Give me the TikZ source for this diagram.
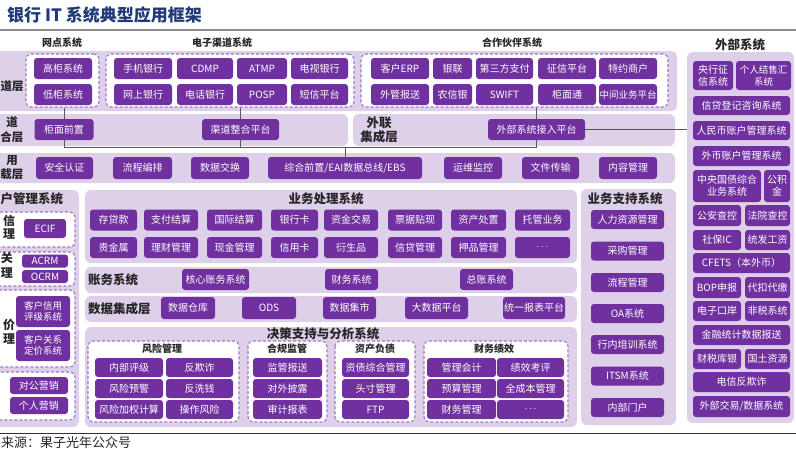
\documentclass[tikz,border=0pt]{standalone}
\usepackage{fontspec}
\setmainfont{Noto Sans CJK SC}
\usetikzlibrary{positioning}
\definecolor{bkpurple}{HTML}{7030A0}
\definecolor{bkband}{HTML}{DFD0EA}
\definecolor{bkdash}{HTML}{9E78C6}
\definecolor{bknavy}{HTML}{1F3A78}
\definecolor{bkline}{HTML}{595959}
\definecolor{bktext}{HTML}{262626}
\tikzset{
  band/.style={fill=bkband,rounded corners=6pt},
  grp/.style={draw=bkdash,dash pattern=on 3pt off 2pt,line width=1.1pt,fill=white,
              rounded corners=5pt},
  sys/.style={fill=bkpurple,text=white,rounded corners=3pt,inner sep=0pt,align=center,
              font=\fontsize{10}{12}\selectfont,minimum height=21pt},
  hdr/.style={font=\fontsize{10}{12}\selectfont\bfseries,text=bktext,inner sep=0pt},
  ttl/.style={font=\fontsize{12.5}{14.5}\selectfont\bfseries,text=bktext,inner sep=0pt,
              align=center},
  side/.style={font=\fontsize{11.5}{14.5}\selectfont\bfseries,text=bktext,inner sep=0pt,
               align=center},
  link/.style={draw=bkline,line width=0.9pt},
}

\begin{document}
\begin{tikzpicture}[x=1pt,y=-1pt]
  \useasboundingbox (0,0) rectangle (796,448);

  % ===== title =====
  \node[font=\fontsize{17}{19}\selectfont\bfseries,text=bknavy,anchor=west,inner sep=0pt]
    (title) at (7,15) {银行 IT 系统典型应用框架};
  \draw[draw=black!45,line width=1.4pt] (0,30) -- (796,30);

  % ===== channel layer =====
  \node[hdr] (lbwd) at (62,43) {网点系统};
  \node[hdr] (lbdz) at (222,43) {电子渠道系统};
  \node[hdr] (lbhz) at (512,43) {合作伙伴系统};
  \fill[band] (-10,51) rectangle (677,111);
  \node[side,anchor=west] (lyqd) at (0.5,86) {道层};
  \node[grp,minimum width=73pt,minimum height=53pt,inner sep=0pt] (wdgrp) at (62.5,80.5) {};
  \node[grp,minimum width=248pt,minimum height=53pt,inner sep=0pt] (dzgrp) at (230,80.5) {};
  \node[grp,minimum width=307pt,minimum height=53pt,inner sep=0pt] (hzgrp) at (514.5,80.5) {};
  \foreach \y/\t [count=\i] in {68.5/高柜系统, 94.5/低柜系统}
    \node[sys,minimum width=58pt] (wd\i) at (63,\y) {\t};
  \foreach \x/\w/\a/\b [count=\i] in {143/58/手机银行/网上银行, 205/56/CDMP/电话银行,
      262/50/ATMP/POSP, 319.5/57/电视银行/短信平台}{
    \node[sys,minimum width=\w pt] (dza\i) at (\x,68.5) {\a};
    \node[sys,minimum width=\w pt] (dzb\i) at (\x,94.5) {\b};
  }
  \foreach \x/\w/\a/\b [count=\i] in {400/58/客户ERP/外管报送, 452.5/39/银联/农信银,
      504.5/57/第三方支付/SWIFT, 567/58/征信平台/柜面通}{
    \node[sys,minimum width=\w pt] (hza\i) at (\x,68.5) {\a};
    \node[sys,minimum width=\w pt] (hzb\i) at (\x,94.5) {\b};
  }
  \node[sys,minimum width=58pt] (hza5) at (628,68.5) {特约商户};
  \node[sys,minimum width=58pt,font=\fontsize{9.5}{11}\selectfont] (hzb5) at (628,94.5) {中间业务平台};

  % ===== integration layers =====
  \fill[band] (-10,114) rectangle (348,146);
  \fill[band] (353,114) rectangle (675,146);
  \node[side] (lyzh) at (12,129.5) {道\\合层};
  \node[ttl] (lywl) at (379,130) {外联\\集成层};
  \node[sys,minimum width=59pt] (gmqz) at (64,129.5) {柜面前置};
  \node[sys,minimum width=77pt] (qdzh) at (240.5,129.5) {渠道整合平台};
  \node[sys,minimum width=97pt] (wbjr) at (536.5,129.5) {外部系统接入平台};

  % ===== application support layer =====
  \fill[band] (-10,153) rectangle (675,183);
  \node[side] (lyyy) at (12,167.5) {用\\载层};
  \foreach \x/\w/\t [count=\i] in {64.5/57/安全认证, 142.5/59/流程编排, 220/58/数据交换,
      473/58/运维监控, 550.5/57/文件传输, 628/58/内容管理}
    \node[sys,minimum width=\w pt,minimum height=22pt] (yy\i) at (\x,168) {\t};
  \node[sys,minimum width=154pt,minimum height=22pt] (eai) at (345,168) {综合前置/EAI数据总线/EBS};

  % ===== external systems =====
  \node[ttl] (lbwb) at (740,45) {外部系统};
  \node[band,minimum width=107pt,minimum height=371pt,inner sep=0pt] (wbpanel) at (740.5,237.5) {};
  \node[sys,minimum width=40pt,minimum height=29pt] (wbyh) at (713,75.5) {央行征\\信系统};
  \node[sys,minimum width=55pt,minimum height=29pt,font=\fontsize{9.5}{12}\selectfont]
    (wbjs) at (763.5,75.5) {个人结售汇\\系统};
  \foreach \y/\h/\t [count=\i] in {105.5/19/信贷登记咨询系统, 130.5/19/人民币账户管理系统,
      156/20/外币账户管理系统, 263/20/CFETS（本外币）, 335/20/金融统计数据报送,
      382/20/电信反欺诈}
    \node[sys,minimum width=97pt,minimum height=\h pt] (wbf\i) at (741.5,\y) {\t};
  \node[sys,minimum width=97pt] (wbjy) at (741.5,406.5) {外部交易/数据系统};
  \node[sys,minimum width=68pt,minimum height=32pt] (wbgz) at (727,186) {中央国债综合\\业务系统};
  \node[sys,minimum width=26pt,minimum height=32pt] (wbgj) at (777,186) {公积\\金};
  \foreach \y/\h/\a/\b [count=\i] in {215.5/21/公安查控/法院查控, 240/20/社保IC/统发工资,
      287.5/21/BOP申报/代扣代缴, 311/20/电子口岸/非税系统, 359/20/财税库银/国土资源}{
    \node[sys,minimum width=48pt,minimum height=\h pt] (wbl\i) at (717,\y) {\a};
    \node[sys,minimum width=45pt,minimum height=\h pt] (wbr\i) at (767.5,\y) {\b};
  }

  % connectors
  \coordinate (bus) at (0,147.5);
  \draw[link] (gmqz.north |- wdgrp.south) -- (gmqz.north);
  \draw[link] (qdzh.north |- dzgrp.south) -- (qdzh.north);
  \draw[link] (wbjr.north |- hzgrp.south) -- (wbjr.north);
  \draw[link] (gmqz.south) -- (gmqz.south |- bus) -- (wbjr.south |- bus) -- (wbjr.south);
  \draw[link] (qdzh.south) -- (qdzh.south |- bus);
  \draw[link] (eai.north |- bus) -- (eai.north);
  \draw[link] (wbjr.east) -- (wbjr.east -| wbpanel.west);

  % ===== customer management =====
  \fill[band] (-10,190) rectangle (79,427);
  \node[ttl,anchor=west] (khtl) at (0.5,199) {户管理系统};
  \path[grp] (-10,212) rectangle (75,247);
  \path[grp] (-10,252) rectangle (75,286);
  \path[grp] (-10,290) rectangle (75,367);
  \path[grp] (-10,372) rectangle (75,420);
  \node[ttl,font=\fontsize{12}{13.5}\selectfont\bfseries] (kh1) at (9,227) {信\\理};
  \node[ttl,font=\fontsize{12}{15}\selectfont\bfseries] (kh2) at (7,265.5) {关\\理};
  \node[ttl,font=\fontsize{12}{14}\selectfont\bfseries] (kh3) at (9,331.5) {价\\理};
  \node[sys,minimum width=42pt,minimum height=19pt] (ecif) at (45,228.5) {ECIF};
  \node[sys,minimum width=46pt,minimum height=13pt] (acrm) at (45,261) {ACRM};
  \node[sys,minimum width=46pt,minimum height=13pt] (ocrm) at (45,276.5) {OCRM};
  \node[sys,minimum width=54pt,minimum height=31pt,font=\fontsize{9.5}{11.5}\selectfont]
    (khxy) at (43,311.5) {客户信用\\评级系统};
  \node[sys,minimum width=54pt,minimum height=31pt,font=\fontsize{9.5}{11.5}\selectfont]
    (khdj) at (43,345.5) {客户关系\\定价系统};
  \node[sys,minimum width=58pt,minimum height=17pt] (dgyx) at (39,385.5) {对公营销};
  \node[sys,minimum width=58pt,minimum height=17pt] (gryx) at (39,405.5) {个人营销};

  % ===== business processing =====
  \fill[band] (85,190) rectangle (577,263);
  \node[ttl] (ywtl) at (326,199) {业务处理系统};
  \foreach \x/\w/\a/\b [count=\i] in {113.5/47/存贷款/贵金属, 171/54/支付结算/理财管理,
      234.5/55/国际结算/现金管理, 294.5/47/银行卡/信用卡, 351/54/资金交易/衍生品,
      415/54/票据贴现/信贷管理, 478.5/55/资产处置/押品管理, 542.5/55/托管业务/$\cdots$}{
    \node[sys,minimum width=\w pt] (ywa\i) at (\x,220) {\a};
    \node[sys,minimum width=\w pt] (ywb\i) at (\x,247.5) {\b};
  }

  % accounting + data integration strips
  \fill[band] (85,267) rectangle (577,293);
  \node[ttl,anchor=west] (zwtl) at (88,280) {账务系统};
  \foreach \x/\w/\t [count=\i] in {215.5/67/核心账务系统, 351.5/53/财务系统, 486.5/53/总账系统}
    \node[sys,minimum width=\w pt] (zw\i) at (\x,279.5) {\t};
  \fill[band] (85,296) rectangle (577,322);
  \node[ttl,anchor=west] (sjtl) at (88,309) {数据集成层};
  \foreach \x/\w/\t [count=\i] in {188/54/数据仓库, 269/54/ODS, 349.5/53/数据集市,
      436.5/63/大数据平台, 534/62/统一报表平台}
    \node[sys,minimum width=\w pt,minimum height=22pt] (sj\i) at (\x,308) {\t};

  % ===== decision support =====
  \fill[band] (85,327) rectangle (577,427);
  \node[ttl] (jctl) at (323,334) {决策支持与分析系统};
  \path[grp] (88,341) rectangle (239,422);
  \path[grp] (248,341) rectangle (327,422);
  \path[grp] (335,341) rectangle (415,422);
  \path[grp] (424,341) rectangle (568,422);
  \node[hdr] (fxtl) at (162,349) {风险管理};
  \node[hdr] (hgtl) at (287,349) {合规监管};
  \node[hdr] (zctl) at (375,349) {资产负债};
  \node[hdr] (cwtl) at (494,349) {财务绩效};
  \foreach \y/\a/\b/\c/\d/\e/\f [count=\i] in {367.5/内部评级/反欺诈/监管报送/资债综合管理/管理会计/绩效考评,
      388.5/风险预警/反洗钱/对外披露/头寸管理/预算管理/全成本管理,
      409.5/风险加权计算/操作风险/审计报表/FTP/财务管理/$\cdots$}{
    \node[sys,minimum width=68pt,minimum height=19pt] (fxa\i) at (129,\y) {\a};
    \node[sys,minimum width=67pt,minimum height=19pt] (fxb\i) at (199.5,\y) {\b};
    \node[sys,minimum width=69pt,minimum height=19pt] (hg\i) at (287.5,\y) {\c};
    \node[sys,minimum width=67pt,minimum height=19pt] (zc\i) at (375.5,\y) {\d};
    \node[sys,minimum width=69pt,minimum height=19pt] (cwa\i) at (461.5,\y) {\e};
    \node[sys,minimum width=67pt,minimum height=19pt] (cwb\i) at (530.5,\y) {\f};
  }

  % ===== business support =====
  \fill[band] (581,189) rectangle (676,425);
  \node[ttl] (zctl) at (625,199) {业务支持系统};
  \foreach \y/\t [count=\i] in {219.5/人力资源管理, 251/采购管理, 282.5/流程管理, 313.5/OA系统,
      344.5/行内培训系统, 376/ITSM系统, 407.5/内部门户}
    \node[sys,minimum width=73pt,minimum height=19pt] (zc\i) at (627.5,\y) {\t};

  % ===== footer =====
  \draw[draw=black!80,line width=1.2pt] (0,433.5) -- (796,433.5);
  \node[font=\fontsize{13}{15}\selectfont,text=bktext,anchor=north west,inner sep=0pt]
    (src) at (1,436) {来源：果子光年公众号};
\end{tikzpicture}
\end{document}
